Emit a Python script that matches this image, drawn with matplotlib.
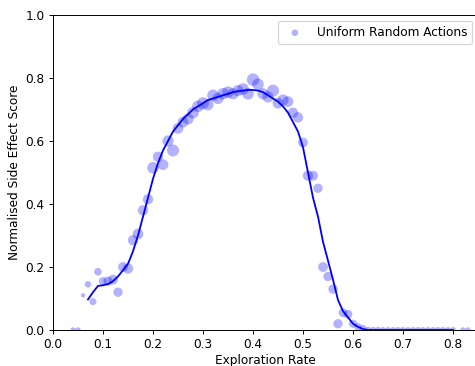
import matplotlib
matplotlib.use("Agg")
import matplotlib.pyplot as plt
import numpy as np

# scatter data
pts_x = [0.04, 0.05, 0.06, 0.07, 0.08, 0.09, 0.10, 0.11, 0.12, 0.13, 0.14, 0.15,
         0.16, 0.17, 0.18, 0.19, 0.20, 0.21, 0.22, 0.23, 0.24, 0.25, 0.26, 0.27,
         0.28, 0.29, 0.30, 0.31, 0.32, 0.33, 0.34, 0.35, 0.36, 0.37, 0.38, 0.39,
         0.40, 0.41, 0.42, 0.43, 0.44, 0.45, 0.46, 0.47, 0.48, 0.49, 0.50, 0.51,
         0.52, 0.53, 0.54, 0.55, 0.56, 0.57, 0.58, 0.59, 0.60, 0.61, 0.62, 0.63,
         0.64, 0.65, 0.66, 0.67, 0.68, 0.69, 0.70, 0.71, 0.72, 0.73, 0.74, 0.75,
         0.76, 0.77, 0.78, 0.79, 0.80, 0.82, 0.83]
pts_y = [0.0, 0.0, 0.11, 0.145, 0.09, 0.185, 0.155, 0.155, 0.16, 0.12, 0.20, 0.195,
         0.285, 0.305, 0.38, 0.415, 0.515, 0.55, 0.525, 0.60, 0.57, 0.64, 0.66, 0.67,
         0.69, 0.71, 0.72, 0.715, 0.745, 0.735, 0.75, 0.755, 0.75, 0.76, 0.765, 0.75,
         0.795, 0.78, 0.75, 0.74, 0.76, 0.72, 0.73, 0.725, 0.69, 0.675, 0.595, 0.49,
         0.49, 0.45, 0.20, 0.17, 0.13, 0.02, 0.055, 0.05, 0.02, 0.01, 0.005, 0.0,
         0.0, 0.0, 0.0, 0.0, 0.0, 0.0, 0.0, 0.0, 0.0, 0.0, 0.0, 0.0,
         0.0, 0.0, 0.0, 0.0, 0.0, 0.0, 0.0]
pts_s = [15, 15, 10, 22, 25, 30, 35, 45, 50, 45, 50, 55,
         55, 60, 55, 55, 70, 55, 60, 65, 75, 60, 60, 65,
         70, 70, 75, 65, 70, 65, 70, 70, 65, 65, 70, 70,
         80, 70, 65, 65, 75, 60, 65, 60, 55, 55, 50, 55,
         50, 45, 50, 45, 45, 45, 40, 40, 35, 30, 25, 22,
         20, 20, 18, 18, 18, 18, 18, 18, 18, 18, 18, 18,
         18, 18, 18, 18, 18, 15, 15]

# smoothed trend line
line_x = [0.07, 0.08, 0.09, 0.10, 0.11, 0.12, 0.13, 0.14, 0.15, 0.16, 0.17, 0.18,
          0.19, 0.20, 0.21, 0.22, 0.23, 0.24, 0.25, 0.26, 0.27, 0.28, 0.29, 0.30,
          0.31, 0.32, 0.33, 0.34, 0.35, 0.36, 0.37, 0.38, 0.39, 0.40, 0.41, 0.42,
          0.43, 0.44, 0.45, 0.46, 0.47, 0.48, 0.49, 0.50, 0.51, 0.52, 0.53, 0.54,
          0.55, 0.56, 0.57, 0.58, 0.59, 0.60, 0.61, 0.62, 0.63, 0.70, 0.80]
line_y = [0.097, 0.12, 0.14, 0.142, 0.146, 0.155, 0.17, 0.19, 0.21, 0.25, 0.30, 0.36,
          0.42, 0.48, 0.53, 0.57, 0.60, 0.63, 0.65, 0.67, 0.685, 0.70, 0.71, 0.72,
          0.73, 0.735, 0.74, 0.745, 0.75, 0.755, 0.758, 0.76, 0.762, 0.762, 0.76, 0.755,
          0.745, 0.735, 0.725, 0.71, 0.69, 0.66, 0.63, 0.58, 0.50, 0.42, 0.36, 0.28,
          0.22, 0.16, 0.095, 0.06, 0.04, 0.02, 0.01, 0.003, 0.0, 0.0, 0.0]

DPI = 87
scale = (100 / DPI) ** 2
fig = plt.figure(figsize=(475 / DPI, 366 / DPI), dpi=DPI)
ax = fig.add_axes([53/475, 36/366, 425/475, 315/366])
ax.scatter(pts_x, pts_y, s=[v * scale for v in pts_s], color="blue", alpha=0.3,
           edgecolors="none", label="Uniform Random Actions")
ax.plot(line_x, line_y, color="blue", lw=1.5)
ax.set_xlim(0.0, 0.85)
ax.set_ylim(0.0, 1.0)
ax.set_xticks([0.0, 0.1, 0.2, 0.3, 0.4, 0.5, 0.6, 0.7, 0.8])
ax.set_yticks([0.0, 0.2, 0.4, 0.6, 0.8, 1.0])
ax.set_xlabel("Exploration Rate", labelpad=2)
ax.set_ylabel("Normalised Side Effect Score")
leg = ax.legend(loc="upper right")
leg.legend_handles[0].set_sizes([30])
fig.savefig("out.png", dpi=DPI)
